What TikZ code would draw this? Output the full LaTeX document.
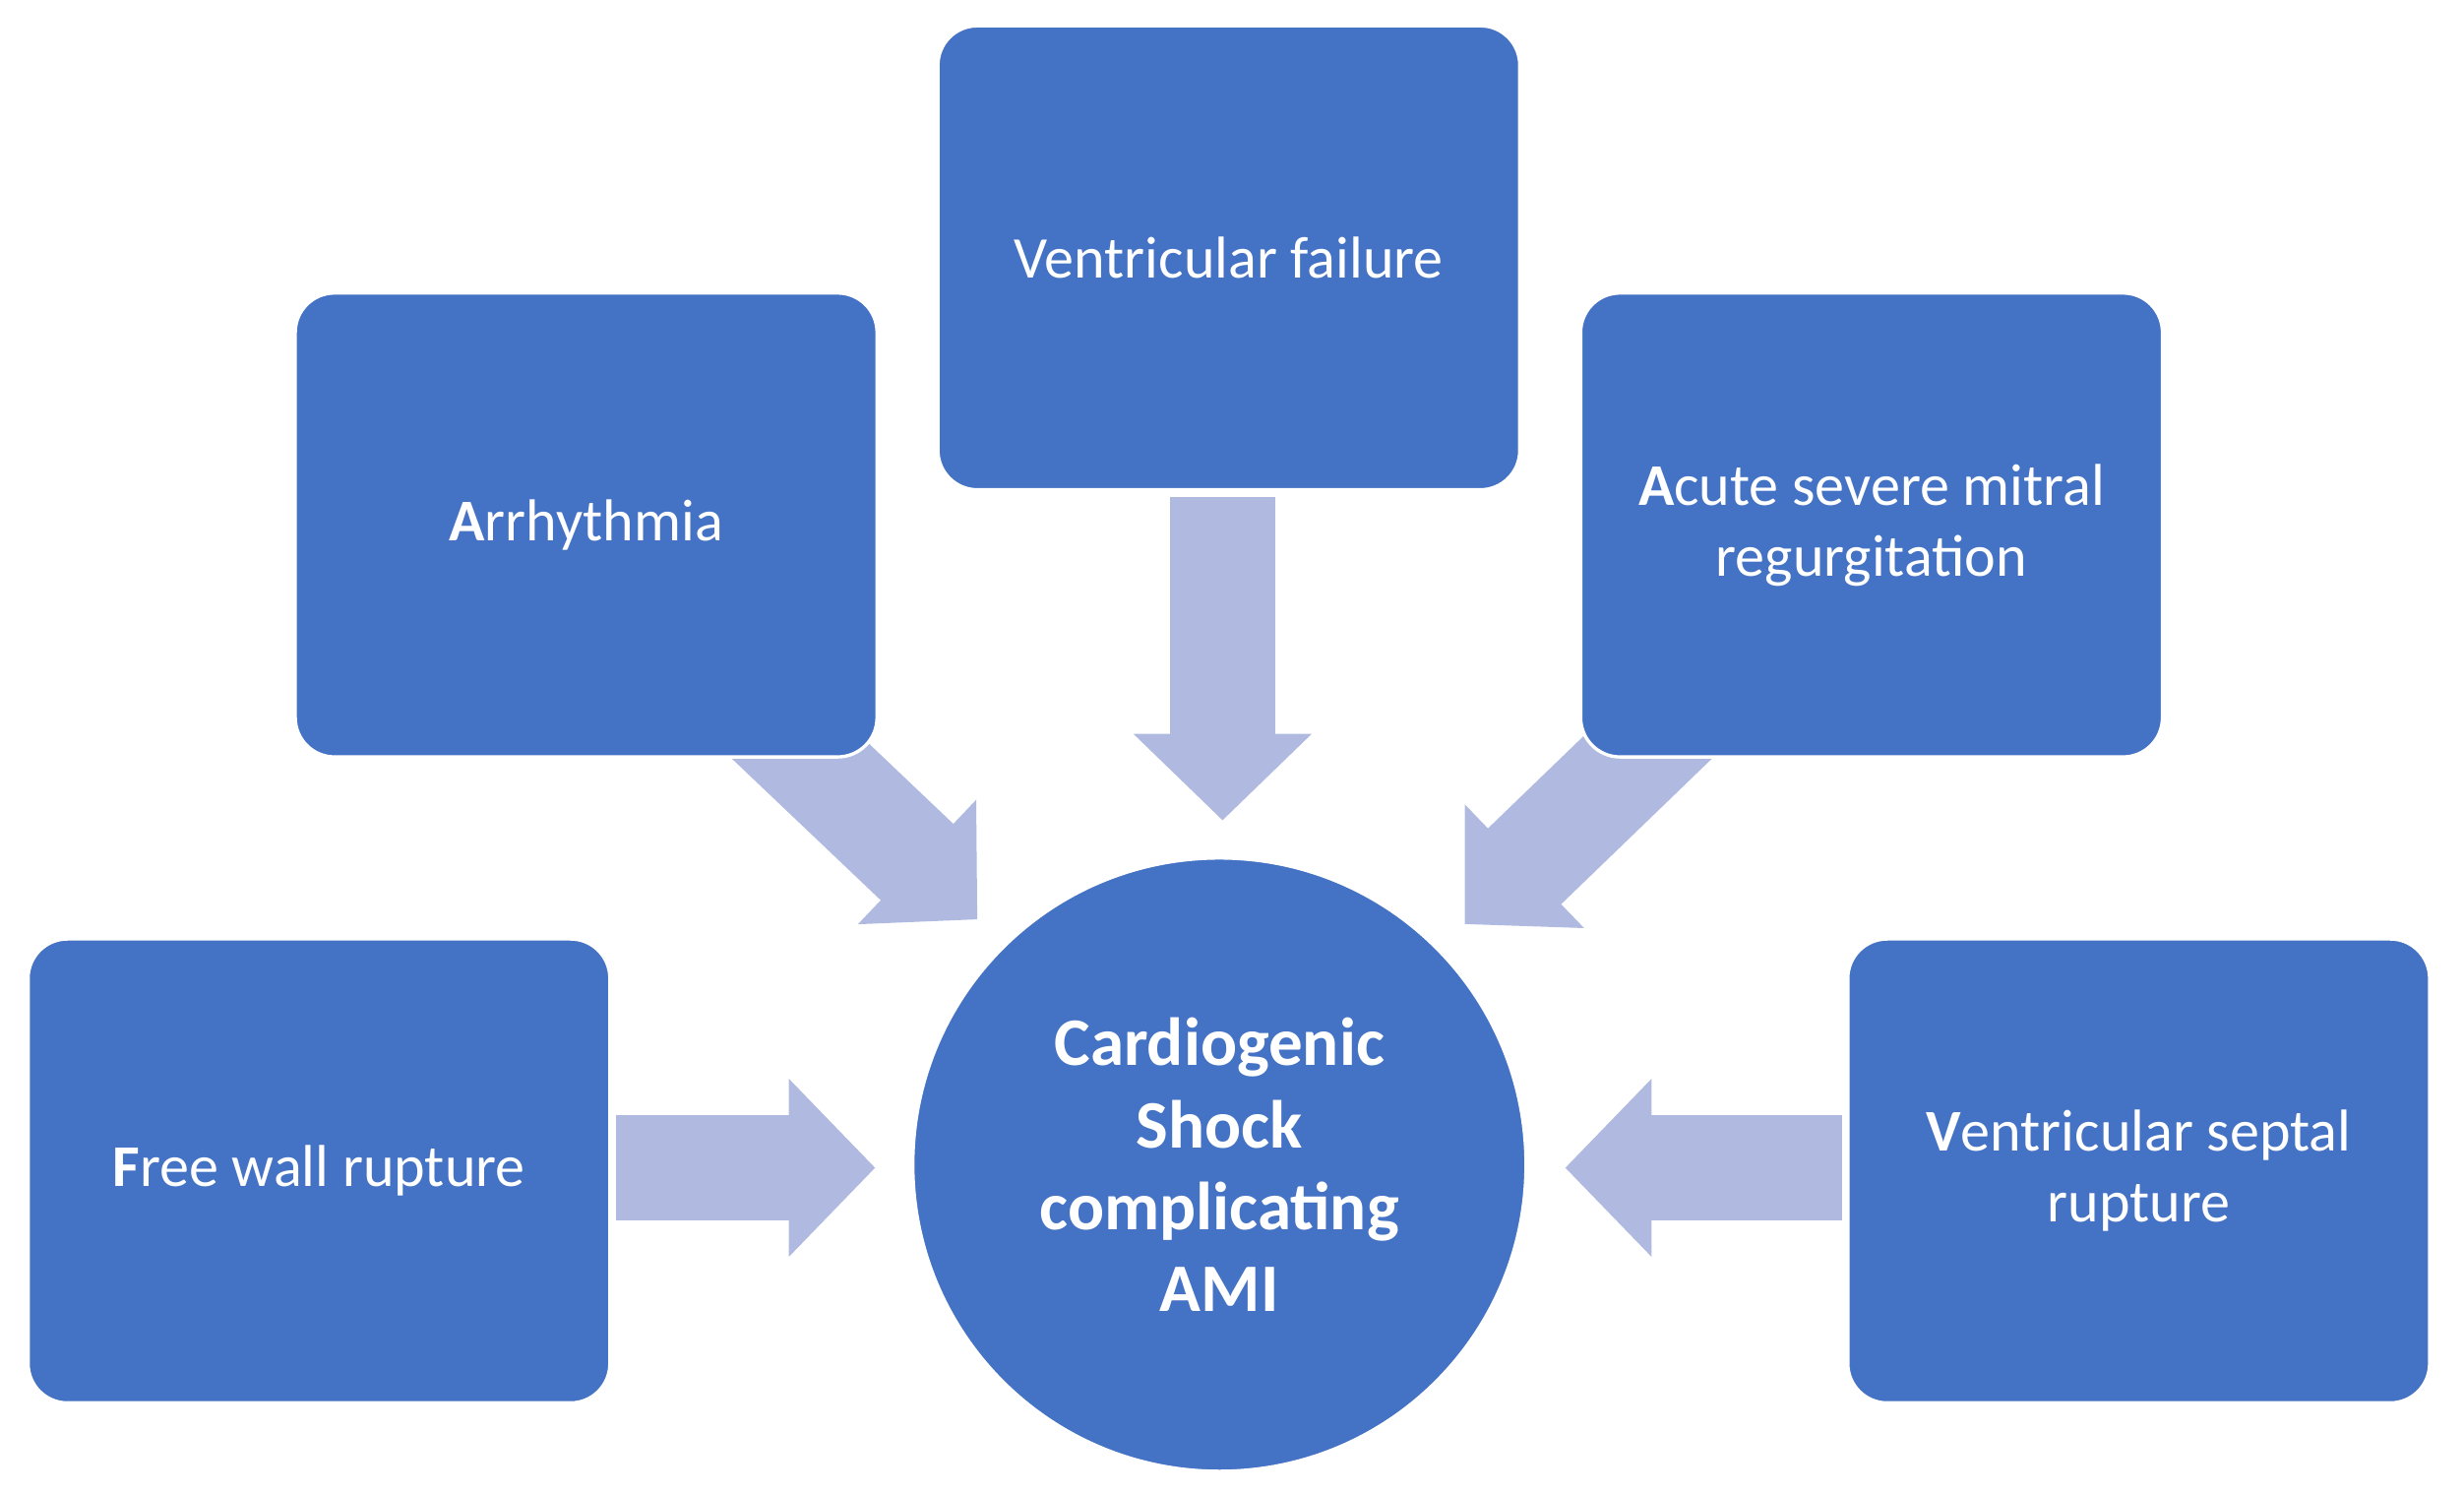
\documentclass[tikz,border=0pt]{standalone}
\usepackage{fontspec}
\setmainfont{Carlito}
\usetikzlibrary{arrows.meta}
\definecolor{boxblue}{HTML}{4472C4}
\definecolor{arrowblue}{HTML}{B0BAE0}
\tikzset{
  cause/.style={draw=white, line width=0.6pt, fill=boxblue, text=white, rounded corners=0.25cm,
    minimum width=3.7cm, minimum height=2.95cm, align=center, font=\fontsize{10.7}{12.8}\selectfont},
  shock/.style={circle, draw=white, line width=0.6pt, fill=boxblue, text=white, minimum size=3.9cm,
    align=center, font=\fontsize{12.3}{14.8}\selectfont\bfseries},
  blockarrow/.style={arrowblue, line width=0.67cm, -{Triangle[width=1.1cm,length=0.55cm]}},
  diagarrow/.style={arrowblue, line width=0.67cm, -{Triangle[width=1.06cm,length=0.53cm]}},
}
\begin{document}
\begin{tikzpicture}[x=0.01cm,y=-0.01cm]
  \useasboundingbox (0,0) rectangle (1568,950);
  % Connectors (drawn first, boxes overlap)
  \coordinate (vfs) at (778,316);
  \coordinate (vft) at (778,522);
  \coordinate (ars) at (480,450);
  \coordinate (art) at (622,585);
  \coordinate (acs) at (1075,450);
  \coordinate (act) at (932,588);
  \coordinate (fws) at (392,743);
  \coordinate (fwt) at (557,743);
  \coordinate (vss) at (1172,743);
  \coordinate (vst) at (996,743);
  \draw [blockarrow] (vfs) -- (vft);
  \draw [diagarrow] (ars) -- (art);
  \draw [diagarrow] (acs) -- (act);
  \draw [blockarrow] (fws) -- (fwt);
  \draw [blockarrow] (vss) -- (vst);
  % Nodes
  \node [cause] (vf) at (782,164) {Ventricular failure};
  \node [cause] (ar) at (373,334) {\textbf{A}rrhythmia};
  \node [cause] (ac) at (1191,334) {\textbf{A}cute severe mitral\\regurgitation};
  \node [cause] (fw) at (203,745) {\textbf{F}ree wall rupture};
  \node [cause] (vs) at (1361,745) {\textbf{V}entricular septal\\rupture};
  \node [shock] (cs) at (776,741) {Cardiogenic\\Shock\\complicating\\AMI};
\end{tikzpicture}
\end{document}
